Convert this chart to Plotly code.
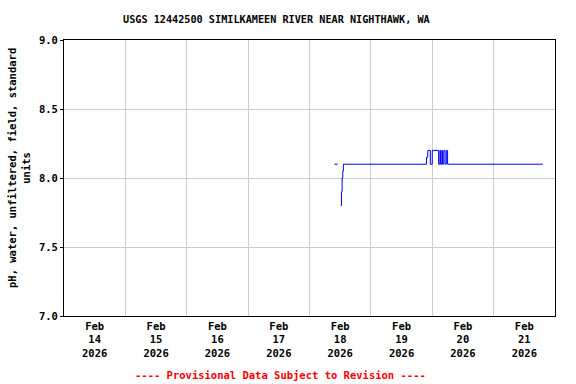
import plotly.graph_objects as go

# Change points of the pH record (step line); None breaks the line
times = [
    "2026-02-18 09:45", "2026-02-18 11:00", None,
    "2026-02-18 12:15", "2026-02-18 12:30", "2026-02-18 12:45", "2026-02-18 13:00", "2026-02-18 13:15",
    "2026-02-19 21:45", "2026-02-19 22:15", "2026-02-19 23:15", "2026-02-20 00:00",
    "2026-02-20 02:30", "2026-02-20 03:00", "2026-02-20 03:15", "2026-02-20 03:45",
    "2026-02-20 04:00", "2026-02-20 04:30", "2026-02-20 05:00", "2026-02-20 05:30",
    "2026-02-20 06:00", "2026-02-21 19:15",
]
ph = [
    8.1, 8.1, None,
    7.8, 7.9, 8.0, 8.05, 8.1,
    8.15, 8.2, 8.1, 8.2,
    8.1, 8.2, 8.1, 8.2,
    8.1, 8.2, 8.1, 8.2,
    8.1, 8.1,
]

day_labels = ["14", "15", "16", "17", "18", "19", "20", "21"]
y_ticks = [7.0, 7.5, 8.0, 8.5, 9.0]

title = "USGS 12442500 SIMILKAMEEN RIVER NEAR NIGHTHAWK, WA"
y_title = "pH, water, unfiltered, field, standard<br>units"
footer = "---- Provisional Data Subject to Revision ----"

FONT = "DejaVu Sans Mono"

label_pos = [f"2026-02-{d} 12:00" for d in day_labels]
label_txt = [f"<b>Feb<br>{d}<br>2026</b>" for d in day_labels]
midnights = [f"2026-02-{int(d)+1} 00:00" for d in day_labels[:-1]]

fig = go.Figure()
fig.add_trace(go.Scatter(
    x=times, y=ph, mode="lines", line=dict(color="#0000ff", width=1, shape="hv"),
    connectgaps=False, hoverinfo="skip", showlegend=False,
))

fig.update_layout(
    width=576, height=384,
    margin=dict(l=64, r=21, t=40, b=68),
    paper_bgcolor="white", plot_bgcolor="white",
    font=dict(family=FONT, size=10.5, color="black"),
    xaxis=dict(
        range=["2026-02-14 00:00", "2026-02-22 00:00"],
        tickmode="array", tickvals=label_pos, ticktext=label_txt,
        showgrid=False, ticks="", showline=True, mirror=True,
        linecolor="black", linewidth=1,
        tickfont=dict(family=FONT, size=10.5, color="black"),
        minor=dict(tickmode="array", tickvals=midnights, showgrid=True,
                   gridcolor="#cccccc", gridwidth=1, ticks="", ticklen=0),
        zeroline=False,
    ),
    yaxis=dict(
        range=[7.0, 9.0],
        tickmode="array", tickvals=y_ticks,
        ticktext=[f"<b>{v:.1f}</b>" for v in y_ticks],
        showgrid=True, gridcolor="#cccccc", gridwidth=1,
        ticks="outside", ticklen=3, tickcolor="black",
        showline=True, mirror=True, linecolor="black", linewidth=1,
        tickfont=dict(family=FONT, size=10.5, color="black"),
        zeroline=False,
    ),
    annotations=[
        dict(text=f"<b>{title}</b>", xref="paper", yref="paper",
             x=0.432, y=(384 - 20 - 68) / 276, xanchor="center", yanchor="middle",
             showarrow=False, font=dict(family=FONT, size=10.2, color="black")),
        dict(text=f"<b>{y_title}</b>", xref="paper", yref="paper",
             x=(19 - 64) / 491, y=(384 - 168 - 68) / 276, xanchor="center", yanchor="middle",
             textangle=-90, showarrow=False,
             font=dict(family=FONT, size=10.5, color="black")),
        dict(text=f"<b>{footer}</b>", xref="paper", yref="paper",
             x=0.44, y=(384 - 375 - 68) / 276, xanchor="center", yanchor="middle",
             showarrow=False, font=dict(family=FONT, size=10.5, color="#ff0000")),
    ],
)

fig.write_html("out.html")
